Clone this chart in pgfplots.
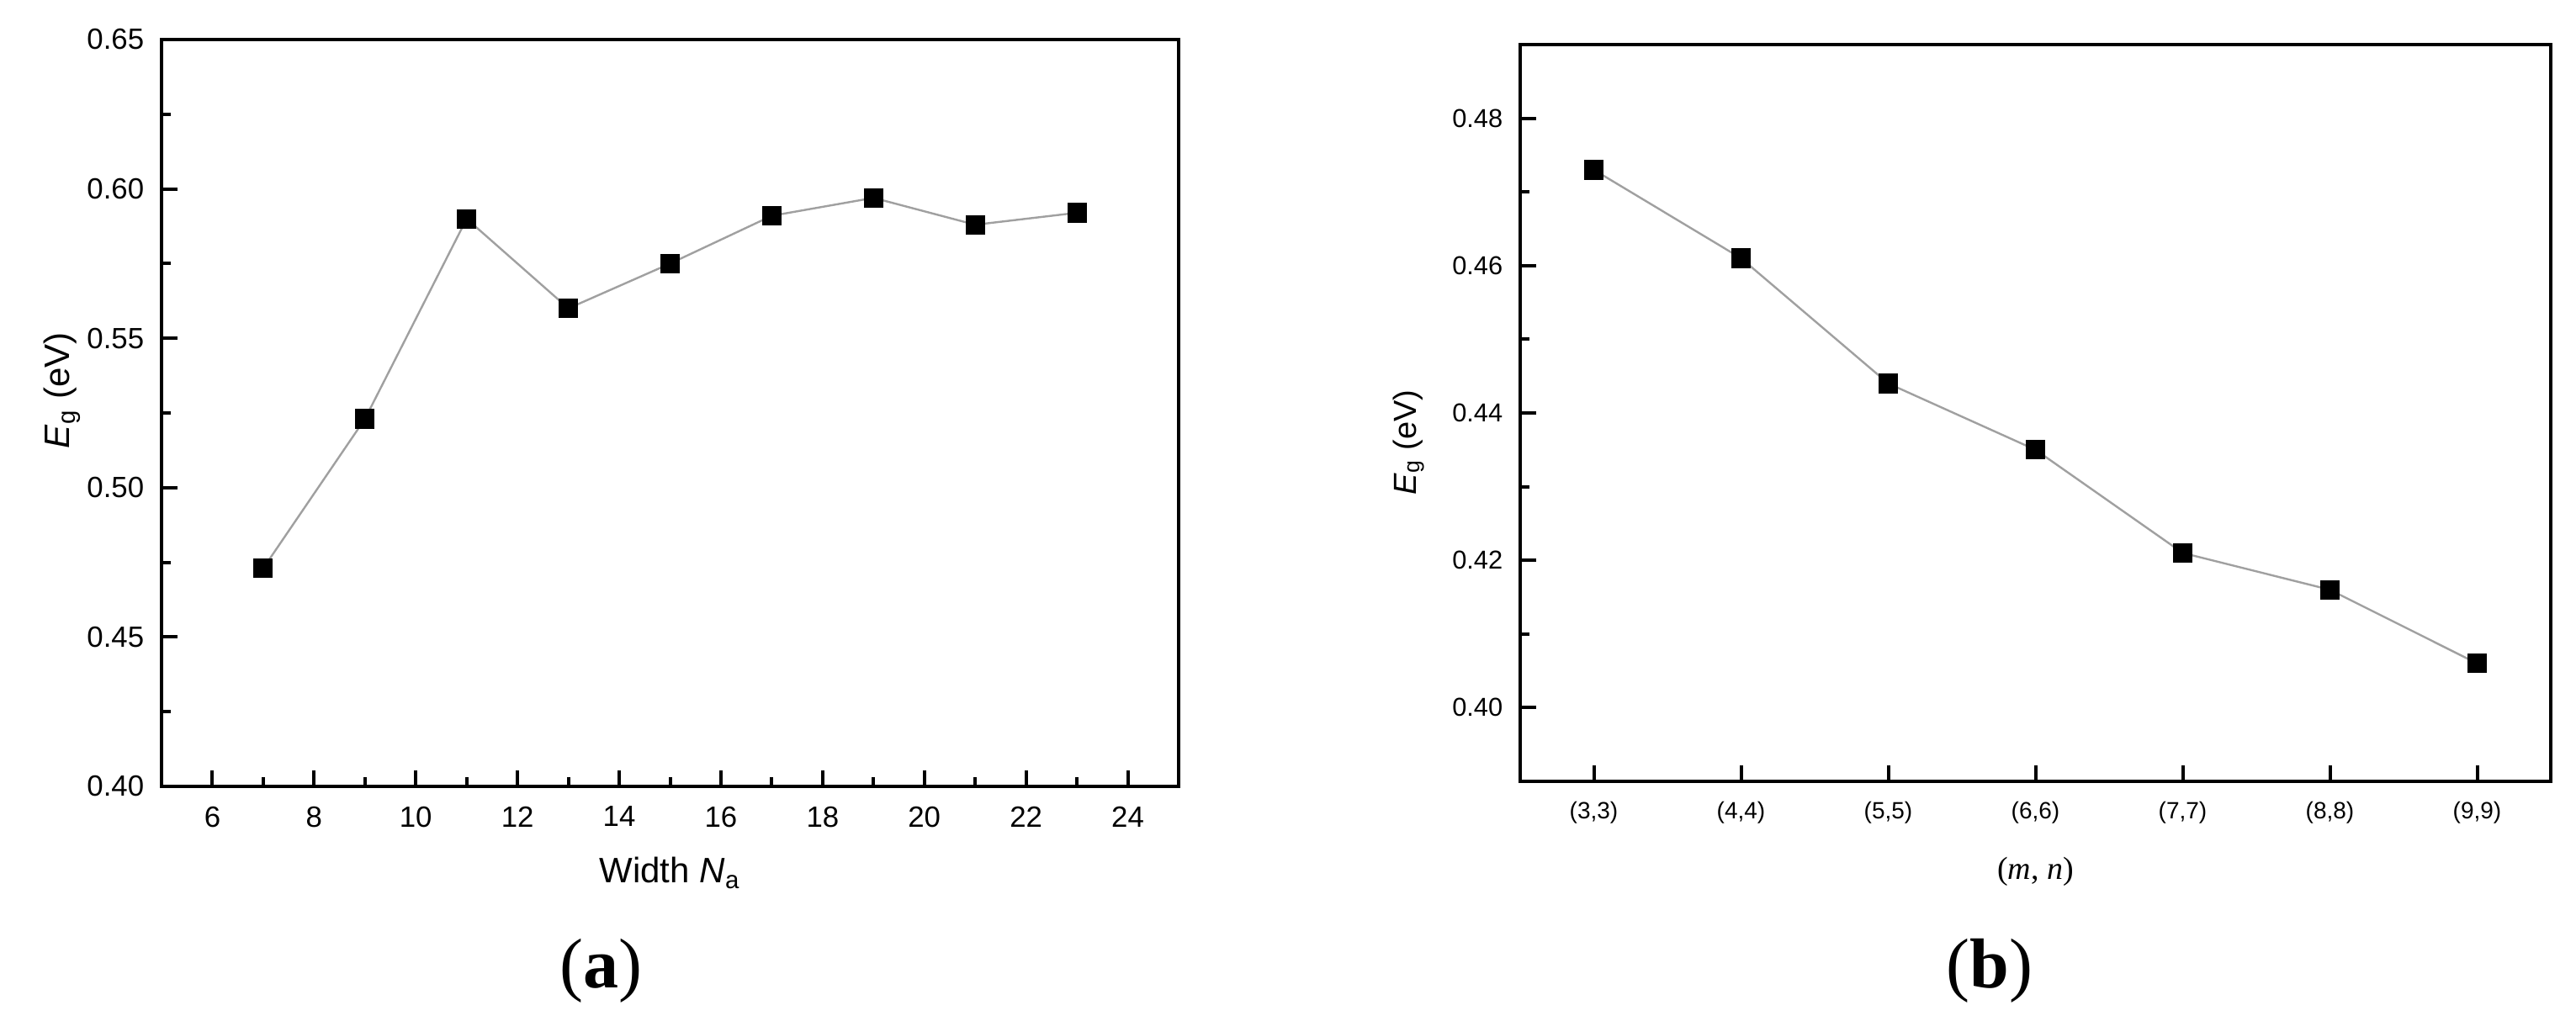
\documentclass[border=0pt]{standalone}
\usepackage{pgfplots}
\pgfplotsset{compat=1.18}
\usepackage{fontspec}
\setmainfont{Liberation Sans}
\newfontfamily\serif{Liberation Serif}
\definecolor{lg}{RGB}{160,160,160}
\begin{document}
\begin{tikzpicture}
\path[use as bounding box] (0pt,0pt) rectangle (765.5pt,302pt);
\pgfplotsset{
  myaxis/.style={
    scale only axis,
    anchor=south west,
    axis line style={line width=1.1pt},
    tick align=inside,
    xtick pos=left, ytick pos=left,
    major tick length=4.75pt, minor tick length=2.75pt,
    every tick/.append style={black, line width=1pt},
    /pgf/number format/assume math mode=true,
    tick label style={inner sep=0pt},
    xticklabel style={yshift=-5.75pt},
    yticklabel style={xshift=-5pt,
      /pgf/number format/fixed, /pgf/number format/fixed zerofill,
      /pgf/number format/precision=2},
    ylabel style={anchor=center},
    xlabel style={anchor=center},
  },
  dataline/.style={color=lg, line width=0.6pt, mark=square*, mark size=2.75pt,
    mark options={solid, fill=black, draw=black, line width=0.3pt}},
}
% Panel (a)
\begin{axis}[myaxis,
  at={(48pt,68.25pt)}, width=302.25pt, height=222pt,
  xmin=5, xmax=25, ymin=0.40, ymax=0.65,
  xtick={6,8,10,12,14,16,18,20,22,24}, minor x tick num=1,
  ytick={0.40,0.45,0.50,0.55,0.60,0.65}, minor y tick num=1,
  tick label style={font=\fontsize{8.7}{10}\selectfont},
  label style={font=\fontsize{10.5}{12}\selectfont},
  xlabel={Width \textit{N}\textsubscript{a}},
  ylabel={\textit{E}\textsubscript{g} (eV)},
  xlabel style={at={(axis description cs:0.5,-0.116)}},
  ylabel style={at={(axis description cs:-0.0976,0.53)}},
]
\addplot[dataline] coordinates {
  (7,0.473) (9,0.523) (11,0.590) (13,0.560) (15,0.575)
  (17,0.591) (19,0.597) (21,0.588) (23,0.592)
};
\end{axis}
% Panel (b)
\begin{axis}[myaxis,
  at={(451.75pt,69.75pt)}, width=306.25pt, height=219pt,
  xmin=-0.5, xmax=6.5, ymin=0.39, ymax=0.49,
  xtick={0,1,2,3,4,5,6},
  xticklabels={{(3,3)},{(4,4)},{(5,5)},{(6,6)},{(7,7)},{(8,8)},{(9,9)}},
  ytick={0.40,0.42,0.44,0.46,0.48}, minor y tick num=1,
  xticklabel style={font=\fontsize{7}{8}\selectfont},
  yticklabel style={font=\fontsize{7.7}{9}\selectfont},
  label style={font=\fontsize{9.5}{11}\selectfont},
  xlabel={{\serif(\textit{m}, \textit{n})}},
  ylabel={\textit{E}\textsubscript{g} (eV)},
  xlabel style={at={(axis description cs:0.5,-0.123)}},
  ylabel style={at={(axis description cs:-0.108,0.46)}},
]
\addplot[dataline] coordinates {
  (0,0.473) (1,0.461) (2,0.444) (3,0.435) (4,0.421) (5,0.416) (6,0.406)
};
\end{axis}
\node[anchor=base, inner sep=0pt, font=\serif\fontsize{21}{24}\selectfont] at (178.5pt,8.25pt) {(\textbf{a})};
\node[anchor=base, inner sep=0pt, font=\serif\fontsize{21}{24}\selectfont] at (591.25pt,8.25pt) {(\textbf{b})};
\end{tikzpicture}
\end{document}
